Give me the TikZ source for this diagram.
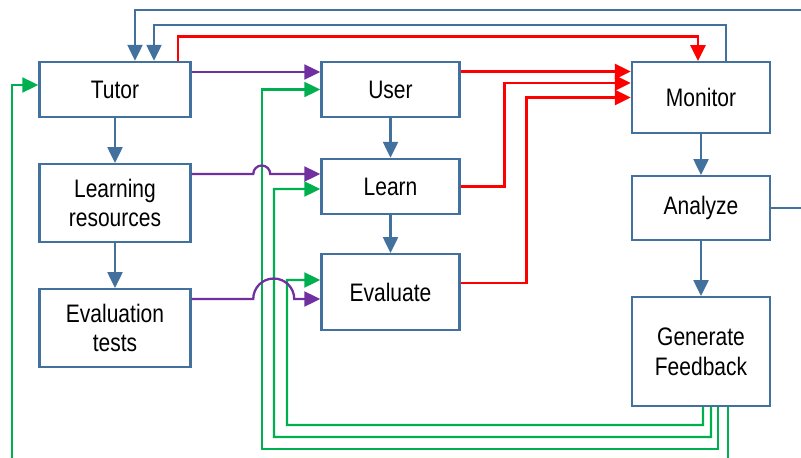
\documentclass[tikz,border=0pt]{standalone}
\usepackage{fontspec}
\setmainfont{Liberation Sans}
\newfontfamily\boxfont[FakeStretch=0.83]{Liberation Sans}
\usetikzlibrary{arrows.meta}

\definecolor{boxblue}{RGB}{65,113,156}
\definecolor{flowred}{RGB}{255,0,0}
\definecolor{flowpurple}{RGB}{112,48,160}
\definecolor{flowgreen}{RGB}{0,176,80}

\begin{document}
\begin{tikzpicture}[
  box/.style={draw=boxblue, line width=1.4pt, minimum width=2.76cm, minimum height=1.10cm,
    align=center, inner sep=2pt, font=\boxfont\fontsize{14.4}{17}\selectfont},
  tip/.style={-{Triangle[length=0.32cm,width=0.30cm]}},
  blueline/.style={tip, color=boxblue, line width=1.4pt},
  redline/.style={tip, color=flowred, line width=1.5pt},
  purpleline/.style={tip, color=flowpurple, line width=1.3pt},
  greenline/.style={tip, color=flowgreen, line width=1.3pt}
]
\useasboundingbox (0,0) rectangle (16.02,9.14);
\clip (0,0) rectangle (16.02,9.14);

% left column
\node[box, minimum width=3.02cm] (tutor) at (2.30,7.35) {Tutor};
\node[box, minimum width=3.02cm, minimum height=1.55cm] (lres) at (2.30,5.08) {Learning\\resources};
\node[box, minimum width=3.02cm, minimum height=1.55cm] (tests) at (2.30,2.58) {Evaluation\\tests};

% middle column
\node[box] (user) at (7.81,7.35) {User};
\node[box] (learn) at (7.81,5.41) {Learn};
\node[box, minimum height=1.51cm] (evaluate) at (7.81,3.30) {Evaluate};

% right column
\node[box, minimum height=1.41cm] (monitor) at (14.02,7.19) {Monitor};
\node[box, minimum height=1.27cm] (analyze) at (14.02,4.98) {Analyze};
\node[box, minimum height=2.17cm] (feedback) at (14.02,2.11) {Generate\\Feedback};

% blue: down the columns
\draw[blueline] (tutor) -- (lres);
\draw[blueline] (lres) -- (tests);
\draw[blueline] (user) -- (learn);
\draw[blueline] (learn) -- (evaluate);
\draw[blueline] (monitor) -- (analyze);
\draw[blueline] (analyze) -- (feedback);

% blue: loops back to the tutor
\draw[blueline] (analyze.east) -| (16.3,8.94) -| ([xshift=0.40cm]tutor.north);
\draw[blueline] ([xshift=0.50cm]monitor.north) -- ++(0,0.72) -| ([xshift=0.78cm]tutor.north);

% red: into the monitor
\draw[redline] ([xshift=1.26cm]tutor.north) -- ++(0,0.48) -| ([xshift=-0.06cm]monitor.north);
\draw[redline] ([yshift=0.36cm]user.east) -- ([yshift=0.36cm]user.east -| monitor.west);
\draw[redline] (learn.east) -- ++(0.88,0) |- ([yshift=0.29cm]monitor.west);
\draw[redline] ([yshift=0.18cm]evaluate.east) -- ++(1.32,0) |- (monitor.west);

% green: feedback back to the start
\draw[greenline] ([xshift=0.04cm]feedback.south) -- ++(0,-0.36) -| (5.74,3.54) -- ([yshift=0.24cm]evaluate.west);
\draw[greenline] ([xshift=0.20cm]feedback.south) -- ++(0,-0.60) -| (5.48,5.36) -- ([yshift=-0.05cm]learn.west);
\draw[greenline] ([xshift=0.34cm]feedback.south) -- ++(0,-0.84) -| (5.24,7.35) -- (user.west);
\draw[greenline] ([xshift=0.54cm]feedback.south) -- ++(0,-1.40) -| (0.24,7.44) -- ([yshift=0.09cm]tutor.west);

% purple: content to the user side, jumping the green lines
\draw[purpleline] ([yshift=0.35cm]tutor.east) -- ([yshift=0.35cm]tutor.east -| user.west);
\draw[purpleline] ([yshift=0.58cm]lres.east) -- ++(1.23,0) arc[start angle=180, end angle=0, radius=0.17cm]
  -- ([yshift=0.25cm]learn.west);
\draw[purpleline] ([yshift=0.58cm]tests.east) -- ++(1.23,0) arc[start angle=180, end angle=0, radius=0.41cm]
  -- ([yshift=-0.14cm]evaluate.west);
\end{tikzpicture}
\end{document}
